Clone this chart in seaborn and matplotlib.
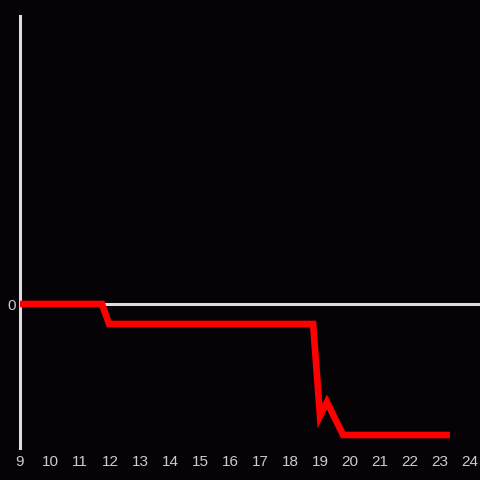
import matplotlib
matplotlib.use("Agg")
import matplotlib.pyplot as plt
import seaborn as sns
import pandas as pd

hours = [9.0, 11.73, 11.97, 18.77, 19.0, 19.23, 19.77, 23.33]
values = [0, 0, -20, -20, -112, -98, -131, -131]
xticks = list(range(9, 25))

bg = "#050306"
sns.set_theme(style="dark")
plt.rcParams["font.family"] = ["Liberation Sans", "DejaVu Sans"]

fig = plt.figure(figsize=(4.8, 4.8), dpi=100, facecolor=bg)
ax = fig.add_axes([20 / 480, 1 - 448 / 480, 460 / 480, 432 / 480])
ax.set_facecolor(bg)

df = pd.DataFrame({"hour": hours, "value": values})
ax.axhline(0, color="#dddddd", lw=2.2, zorder=1)
sns.lineplot(data=df, x="hour", y="value", ax=ax, color="#ff0000", lw=4.8,
             zorder=3, estimator=None, sort=False)
for l in ax.lines:
    l.set_solid_capstyle("butt")
    l.set_solid_joinstyle("miter")

ax.set_xlim(9, 9 + 460 / 30)
ax.set_ylim(-144, 288)
ax.set_xticks(xticks)
ax.set_xticklabels([str(t) for t in xticks])
ax.set_yticks([0])
ax.set_yticklabels(["0"])
ax.tick_params(axis="both", length=0, colors="#cccccc", labelsize=11)
ax.tick_params(axis="x", pad=5)
ax.tick_params(axis="y", pad=3)
ax.set_xlabel("")
ax.set_ylabel("")
ax.grid(False)
for s in ["top", "right", "bottom"]:
    ax.spines[s].set_visible(False)
ax.spines["left"].set_color("#dddddd")
ax.spines["left"].set_linewidth(2.2)

fig.savefig("out.png", dpi=100, facecolor=bg)
